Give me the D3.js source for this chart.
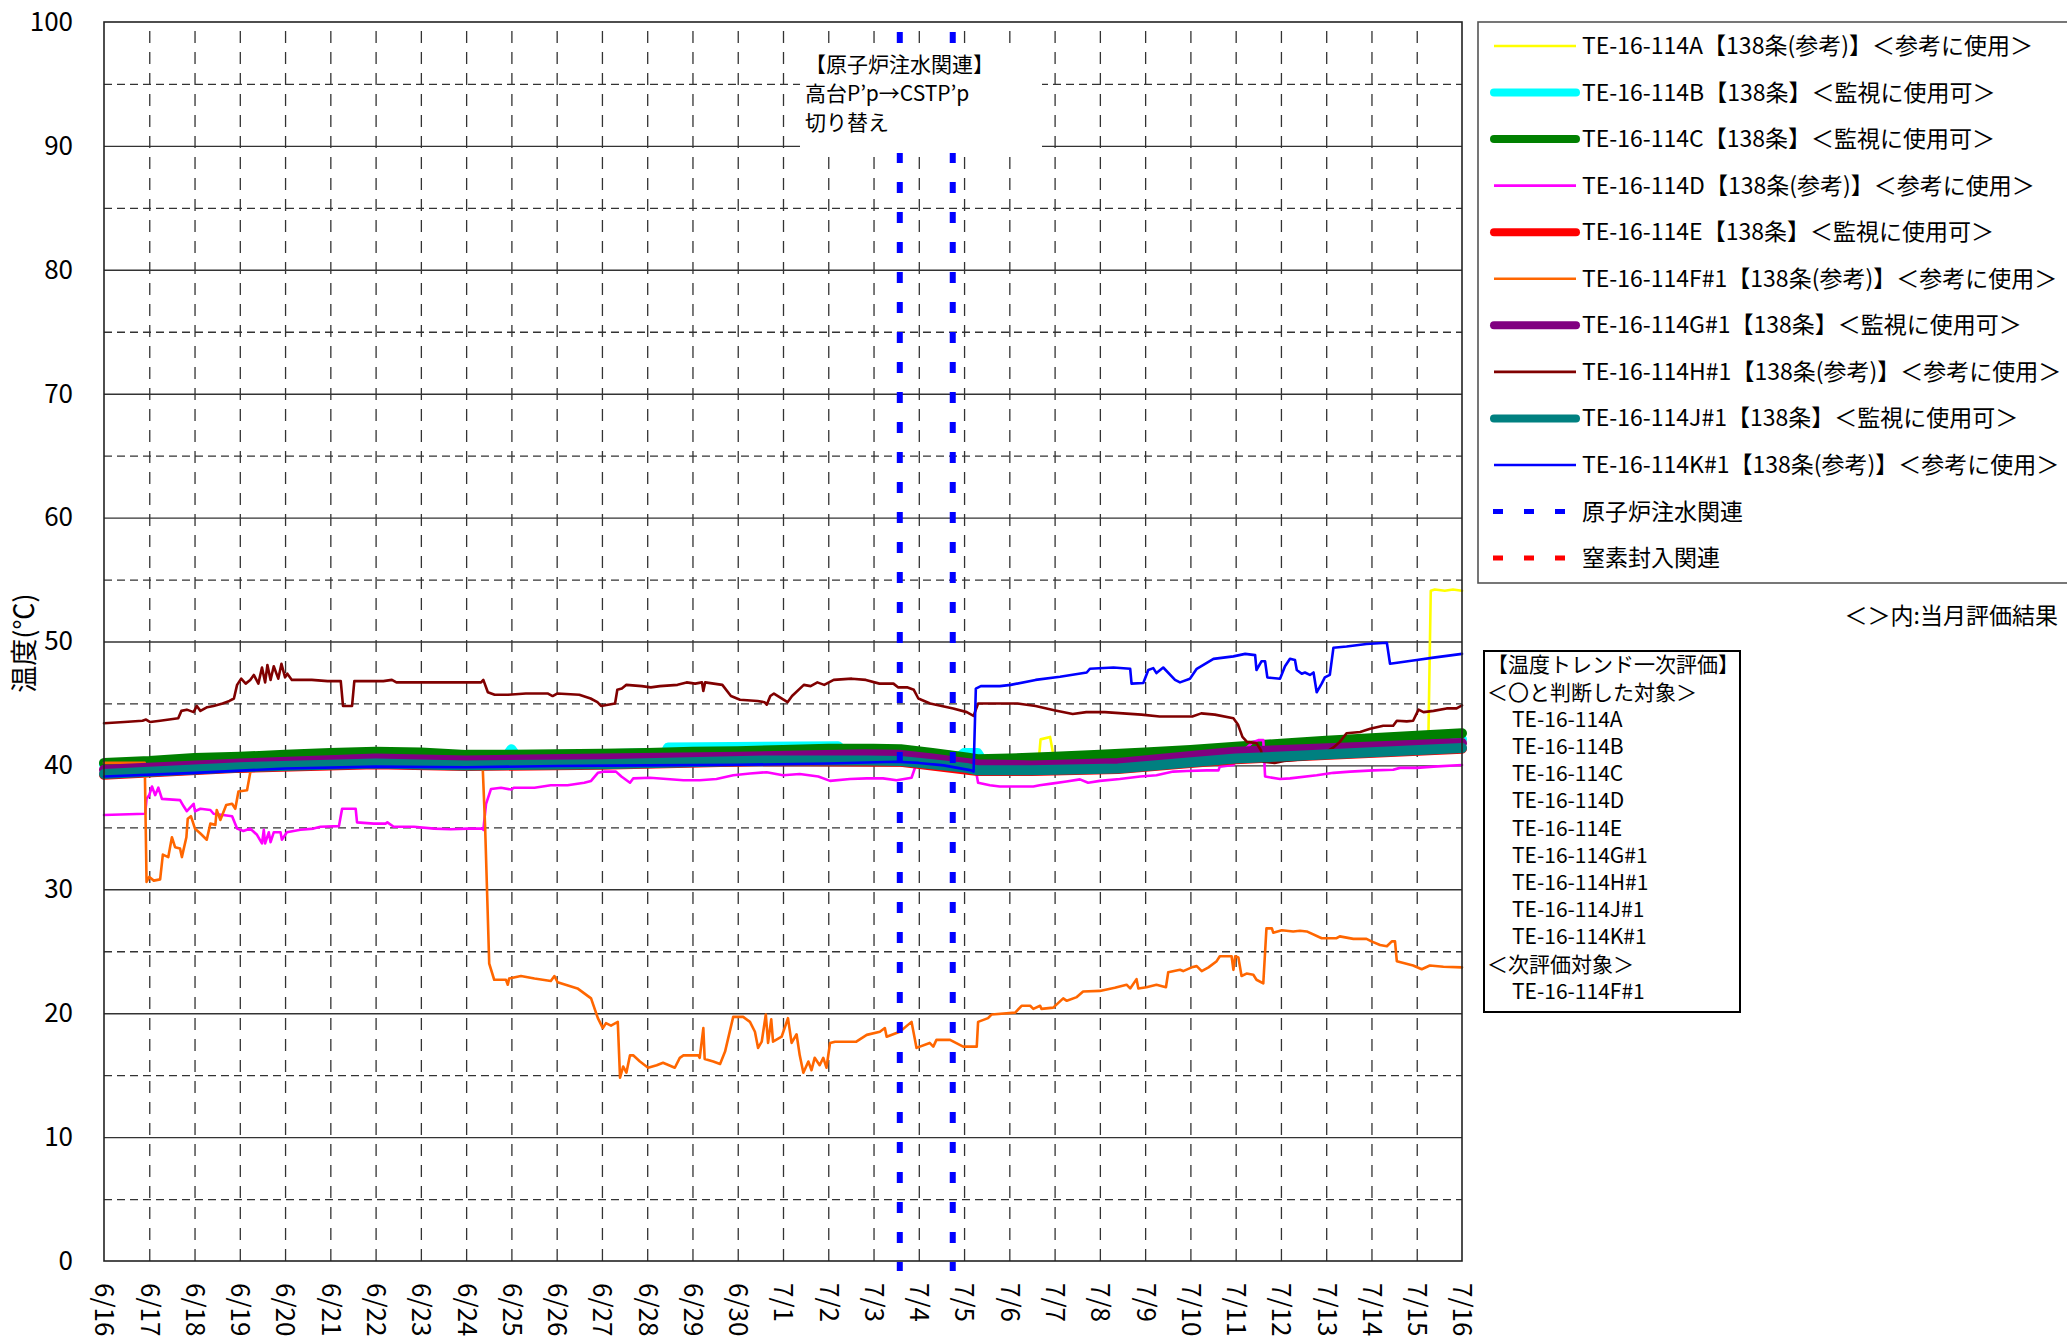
<!DOCTYPE html>
<html>
<head>
<meta charset="utf-8">
<script src="https://cdn.jsdelivr.net/npm/d3@7"></script>
<style>
  body { margin: 0; background: #fff; }
  text { font-family: "Noto Sans CJK JP", "Noto Sans", sans-serif; fill: #000; }
</style>
</head>
<body>
<script>
// temperature trend chart 6/16 - 7/16
var svgWidth = 2067;
var svgHeight = 1343;

var margin = {
  top: 22,
  right: 605,
  bottom: 82,
  left: 104
};

var chartWidth = svgWidth - margin.left - margin.right;
var chartHeight = svgHeight - margin.top - margin.bottom;

// x tick labels (one per day, index = days since 6/16)
var dayLabels = ["6/16","6/17","6/18","6/19","6/20","6/21","6/22","6/23","6/24","6/25",
  "6/26","6/27","6/28","6/29","6/30","7/1","7/2","7/3","7/4","7/5","7/6","7/7","7/8",
  "7/9","7/10","7/11","7/12","7/13","7/14","7/15","7/16"];
var yTicks = [0,10,20,30,40,50,60,70,80,90,100];

// series: [day, temperature]
var te114A = [[0,40.0],[5,40.8],[17,40.8],[18.5,40.5],[19.5,40.1],[20.65,40.4],[20.69,42.1],[20.9,42.3],
  [20.96,41.1],[21,40.6],[25,41.3],[29.2,42.5],[29.26,42.8],[29.31,54.1],[29.4,54.2],[29.62,54.1],[29.8,54.2],[30,54.1]];
var te114B = [[0,40.1],[3,40.6],[6,41.0],[8,40.8],[8.9,40.8],[9.0,41.3],[9.1,40.8],[11,40.9],[12.4,41.0],
  [12.46,41.45],[16.22,41.55],[16.3,41.2],[17.6,41.2],[18.3,40.9],[18.9,40.7],[19.0,41.0],[19.3,41.0],
  [19.4,40.4],[20.5,40.45],[25,41.35],[28,41.9],[30,42.1]];
var te114C = [[0,40.2],[1,40.35],[2,40.6],[3,40.7],[4,40.85],[5,41.0],[6,41.1],[7,41.05],[8,40.85],[9,40.85],
  [10,40.9],[11,40.95],[12,41.0],[13,41.1],[14,41.15],[15,41.25],[16,41.35],[17,41.35],[17.6,41.3],[18.3,41.0],
  [19.05,40.65],[19.3,40.5],[20,40.55],[21,40.7],[22,40.85],[23,41.05],[24,41.25],[25,41.5],[26,41.75],
  [27,42.0],[28,42.2],[29,42.4],[30,42.6]];
var te114D = [[0,36.0],[0.91,36.1],[0.94,37.3],[1.0,37.6],[1.06,38.3],[1.13,37.6],[1.20,38.2],[1.28,37.3],
  [1.68,37.2],[1.76,36.7],[1.83,36.3],[1.98,36.9],[2.01,36.3],[2.13,36.5],[2.35,36.4],[2.42,36.1],[2.83,35.9],
  [2.94,34.9],[3.08,34.7],[3.23,34.9],[3.38,34.4],[3.49,33.7],[3.53,34.8],[3.56,33.7],[3.64,34.6],[3.68,33.8],
  [3.75,34.6],[3.90,34.6],[3.93,34.0],[4.04,34.6],[4.34,34.8],[4.63,34.9],[4.78,35.05],[5.19,35.1],[5.26,36.5],
  [5.56,36.5],[5.59,35.4],[5.96,35.3],[6.22,35.3],[6.26,35.4],[6.40,35.05],[6.85,35.05],[7.29,34.9],
  [7.66,34.85],[8.03,34.9],[8.36,34.9],[8.38,34.8],[8.44,36.9],[8.55,38.1],[8.77,38.2],[8.99,38.05],
  [9.06,38.2],[9.51,38.2],[9.87,38.4],[10.24,38.4],[10.61,38.6],[10.76,38.75],[10.91,39.4],[11.06,39.5],
  [11.31,39.5],[11.43,39.1],[11.62,38.6],[11.69,38.95],[12.06,39.0],[12.43,38.9],[12.80,38.8],[13.16,38.8],
  [13.53,38.9],[13.90,39.2],[14.27,39.35],[14.64,39.45],[15.0,39.2],[15.37,39.3],[15.78,39.1],[16.04,38.75],
  [16.48,38.9],[16.85,38.95],[17.21,38.95],[17.51,38.8],[17.84,39.0],[17.91,39.75],[17.96,40.3],[18.7,40.1],
  [19.25,39.8],[19.31,38.6],[19.57,38.4],[19.79,38.3],[20.16,38.3],[20.53,38.3],[20.67,38.4],[20.97,38.55],
  [21.26,38.7],[21.56,38.87],[21.74,38.6],[22.0,38.75],[22.44,38.9],[22.89,39.1],[23.25,39.2],[23.62,39.5],
  [23.92,39.55],[24.36,39.6],[24.62,39.6],[24.65,39.9],[24.95,40.03],[25.17,41.2],[25.39,41.9],[25.50,42.04],
  [25.61,42.04],[25.65,39.1],[25.98,38.9],[26.2,38.95],[26.79,39.2],[27.16,39.4],[27.53,39.5],[28.04,39.6],
  [28.48,39.65],[28.63,39.8],[29.0,39.8],[29.37,39.9],[30.0,40.03]];
var te114E = [[0,39.25],[3,39.8],[6,40.1],[8,39.95],[11,40.05],[14.6,40.35],[17.6,40.3],[19.3,39.55],
  [20.5,39.55],[22.4,39.7],[25,40.5],[30,41.35]];
var te114F = [[0,40.2],[0.9,40.2],[0.94,30.6],[1.0,31.0],[1.1,30.7],[1.24,30.8],[1.30,32.8],[1.42,32.6],
  [1.50,34.2],[1.57,33.4],[1.68,33.3],[1.72,32.6],[1.82,34.2],[1.85,35.7],[1.92,35.9],[2.01,34.9],[2.13,34.5],
  [2.27,34.0],[2.35,35.3],[2.46,35.2],[2.49,36.4],[2.57,35.6],[2.70,36.8],[2.83,36.9],[2.90,36.5],[2.97,37.9],
  [3.16,38.0],[3.23,39.4],[3.30,40.3],[5,40.5],[8.36,40.4],[8.42,35],[8.47,28.9],[8.51,24.0],[8.62,22.7],
  [8.88,22.7],[8.92,22.3],[8.95,22.8],[9.21,23.0],[9.51,22.8],[9.87,22.6],[9.95,23.0],[10.02,22.5],
  [10.46,22.0],[10.76,21.2],[10.91,19.6],[11.02,18.8],[11.09,19.2],[11.20,19.0],[11.35,19.3],[11.40,14.8],
  [11.47,15.7],[11.54,15.2],[11.62,16.6],[11.69,16.6],[11.84,16.1],[12.02,15.6],[12.21,15.8],[12.35,16.0],
  [12.61,15.6],[12.72,16.4],[12.80,16.6],[13.13,16.6],[13.16,16.4],[13.24,18.8],[13.27,16.3],[13.46,16.1],
  [13.61,15.9],[13.72,16.9],[13.90,19.7],[14.12,19.7],[14.27,19.3],[14.38,18.5],[14.45,17.2],[14.53,17.7],
  [14.62,19.9],[14.67,17.6],[14.74,19.5],[14.78,17.7],[14.97,18.1],[15.11,19.6],[15.19,17.6],[15.30,18.3],
  [15.37,16.6],[15.45,15.2],[15.56,16.1],[15.63,15.4],[15.70,16.4],[15.81,15.8],[15.89,16.4],[15.96,15.6],
  [16.04,17.6],[16.15,17.7],[16.62,17.7],[16.85,18.25],[17.14,18.5],[17.25,18.8],[17.29,18.1],[17.58,18.5],
  [17.84,19.3],[17.95,17.2],[18.24,17.6],[18.32,17.3],[18.39,17.85],[18.69,17.85],[18.98,17.3],[19.28,17.3],
  [19.31,19.3],[19.53,19.6],[19.61,19.9],[20.13,20.05],[20.27,20.6],[20.46,20.6],[20.53,20.35],[20.68,20.6],
  [20.71,20.35],[20.97,20.45],[21.19,21.2],[21.27,21.0],[21.49,21.3],[21.63,21.75],[22.0,21.8],[22.33,22.05],
  [22.59,22.3],[22.67,22.0],[22.81,22.75],[22.85,22.0],[23.03,22.1],[23.25,22.3],[23.46,22.1],[23.51,23.3],
  [23.77,23.5],[23.84,23.4],[24.03,23.7],[24.14,23.8],[24.25,23.4],[24.40,23.7],[24.58,24.2],[24.65,24.6],
  [24.91,24.6],[24.95,23.5],[24.99,24.6],[25.06,24.5],[25.13,23.0],[25.24,23.2],[25.39,23.1],[25.46,22.7],
  [25.61,22.4],[25.68,26.85],[25.80,26.85],[25.83,26.5],[26.02,26.7],[26.27,26.6],[26.42,26.65],[26.57,26.6],
  [26.90,26.05],[27.23,26.05],[27.30,26.2],[27.60,26.0],[27.89,26.0],[28.0,25.8],[28.19,25.5],[28.34,25.4],
  [28.45,25.8],[28.52,25.8],[28.56,24.2],[28.92,23.85],[29.11,23.55],[29.29,23.85],[29.59,23.75],[30.0,23.7]];
var te114G = [[0,39.65],[3,40.15],[6,40.55],[8,40.4],[11,40.55],[14,40.7],[16.8,40.9],[17.6,40.85],
  [18.3,40.55],[19.05,40.2],[19.3,40.1],[20.5,40.0],[22.4,40.2],[25,41.1],[30,41.8]];
var te114H = [[0,43.4],[0.45,43.5],[0.85,43.6],[0.93,43.7],[1.02,43.5],[1.24,43.6],[1.64,43.8],[1.71,44.4],
  [1.83,44.5],[1.98,44.3],[2.05,44.8],[2.13,44.4],[2.28,44.7],[2.42,44.8],[2.62,45.0],[2.77,45.2],[2.87,45.4],
  [2.94,46.5],[3.03,47.0],[3.13,46.6],[3.23,46.9],[3.31,47.3],[3.41,46.6],[3.49,47.9],[3.56,46.7],[3.61,48.1],
  [3.68,46.9],[3.75,48.0],[3.85,47.0],[3.92,48.2],[4.0,47.1],[4.05,47.4],[4.15,46.9],[4.59,46.9],[4.94,46.8],
  [5.23,46.8],[5.28,44.8],[5.48,44.8],[5.53,46.8],[6.17,46.8],[6.36,46.9],[6.46,46.7],[8.33,46.7],[8.38,46.9],
  [8.48,45.9],[8.63,45.7],[8.93,45.7],[9.32,45.8],[9.81,45.8],[9.91,45.6],[10.01,45.8],[10.50,45.7],
  [10.75,45.4],[10.90,45.1],[10.98,44.8],[11.29,45.0],[11.34,46.1],[11.44,46.2],[11.54,46.5],[11.88,46.4],
  [12.08,46.3],[12.28,46.4],[12.67,46.5],[12.87,46.7],[13.06,46.6],[13.21,46.7],[13.24,46.0],[13.28,46.7],
  [13.66,46.5],[13.85,45.6],[14.05,45.3],[14.44,45.2],[14.59,45.1],[14.64,44.9],[14.72,45.6],[14.80,45.8],
  [15.1,45.1],[15.2,45.6],[15.46,46.5],[15.61,46.4],[15.76,46.7],[15.91,46.5],[16.12,46.9],[16.52,47.0],
  [16.83,46.9],[17.13,46.6],[17.44,46.6],[17.54,46.3],[17.74,46.3],[17.89,46.1],[17.99,45.4],[18.25,45.0],
  [18.76,44.6],[19.06,44.3],[19.21,44.0],[19.31,45.0],[20.18,45.0],[20.58,44.8],[20.99,44.45],[21.40,44.15],
  [21.70,44.3],[22.11,44.3],[22.51,44.2],[22.92,44.1],[23.32,43.95],[24.04,43.95],[24.24,44.2],[24.54,44.1],
  [24.95,43.8],[25.05,43.3],[25.15,42.3],[25.25,41.9],[25.46,41.8],[25.56,41.2],[25.61,40.3],[25.86,40.2],
  [26.07,40.35],[26.37,40.45],[26.8,40.6],[27.16,41.45],[27.30,41.9],[27.45,42.6],[27.75,42.7],[27.97,42.95],
  [28.26,43.2],[28.48,43.2],[28.56,43.6],[28.78,43.55],[28.92,43.6],[29.04,44.5],[29.15,44.3],[29.37,44.4],
  [29.66,44.6],[29.88,44.6],[30.0,44.85]];
var te114J = [[0,39.3],[3,39.85],[6,40.15],[8,40.0],[11,40.1],[14.6,40.4],[16.85,40.4],[17.6,40.35],
  [18.3,40.1],[19.05,39.8],[19.3,39.6],[20.5,39.6],[22.4,39.75],[25,40.55],[30,41.4]];
var te114K = [[0,39.1],[2,39.4],[4,39.75],[6,39.9],[8,39.85],[10,39.95],[12,40.0],[14,40.05],[16,40.15],
  [17.5,40.3],[18.0,40.2],[18.55,40.0],[19.16,39.6],[19.21,39.5],[19.26,46.2],[19.37,46.4],[19.79,46.4],
  [20.03,46.5],[20.58,46.9],[21.12,47.15],[21.71,47.5],[21.78,47.8],[22.30,47.9],[22.67,47.8],[22.70,46.6],
  [22.96,46.65],[23.07,47.7],[23.18,47.85],[23.25,47.45],[23.4,47.9],[23.66,46.9],[23.77,46.7],[23.99,47.0],
  [24.14,47.8],[24.51,48.6],[24.95,48.8],[25.21,49.0],[25.43,48.9],[25.46,47.7],[25.57,48.4],[25.65,48.4],
  [25.70,47.1],[25.98,47.0],[26.09,48.0],[26.2,48.6],[26.31,48.5],[26.35,47.7],[26.46,47.4],[26.53,47.5],
  [26.64,47.3],[26.72,47.5],[26.79,45.9],[26.90,46.6],[26.97,47.1],[27.08,47.3],[27.16,49.5],[27.45,49.6],
  [27.89,49.8],[28.34,49.9],[28.41,48.2],[29.0,48.5],[29.37,48.7],[30.0,49.0]];

// times of the reactor water injection switch (days since 6/16)
var injectionTimes = [17.58, 18.75];

var seriesData = [te114A, te114B, te114C, te114D, te114E, te114F, te114G, te114H, te114J, te114K];
var seriesNames = [
  "TE-16-114A【138条(参考)】＜参考に使用＞",
  "TE-16-114B【138条】＜監視に使用可＞",
  "TE-16-114C【138条】＜監視に使用可＞",
  "TE-16-114D【138条(参考)】＜参考に使用＞",
  "TE-16-114E【138条】＜監視に使用可＞",
  "TE-16-114F#1【138条(参考)】＜参考に使用＞",
  "TE-16-114G#1【138条】＜監視に使用可＞",
  "TE-16-114H#1【138条(参考)】＜参考に使用＞",
  "TE-16-114J#1【138条】＜監視に使用可＞",
  "TE-16-114K#1【138条(参考)】＜参考に使用＞"
];
var seriesColors = ["#ffff00","#00ffff","#008000","#ff00ff","#ff0000","#ff6600","#800080","#800000","#008080","#0000ff"];
var seriesThick = [false, true, true, false, true, false, true, false, true, false];

var eventNames = ["原子炉注水関連", "窒素封入関連"];
var eventColors = ["#0000ff", "#ff0000"];

var noteLines = ["【原子炉注水関連】", "高台P’p→CSTP’p", "切り替え"];
var evalLines = [
  {text: "【温度トレンド一次評価】", indent: false},
  {text: "＜〇と判断した対象＞", indent: false},
  {text: "TE-16-114A", indent: true},
  {text: "TE-16-114B", indent: true},
  {text: "TE-16-114C", indent: true},
  {text: "TE-16-114D", indent: true},
  {text: "TE-16-114E", indent: true},
  {text: "TE-16-114G#1", indent: true},
  {text: "TE-16-114H#1", indent: true},
  {text: "TE-16-114J#1", indent: true},
  {text: "TE-16-114K#1", indent: true},
  {text: "＜次評価対象＞", indent: false},
  {text: "TE-16-114F#1", indent: true}
];

var svg = d3.select("body")
  .append("svg")
  .attr("width", svgWidth)
  .attr("height", svgHeight);

svg.append("rect")
  .attr("width", svgWidth)
  .attr("height", svgHeight)
  .attr("fill", "#fff");

var chartGroup = svg.append("g")
  .attr("transform", `translate(${margin.left}, ${margin.top})`);

var xScale = d3.scaleLinear()
  .domain([0, 30])
  .range([0, chartWidth]);

var yScale = d3.scaleLinear()
  .domain([0, 100])
  .range([chartHeight, 0]);

// vertical day grid (dashed)
chartGroup.append("g")
  .attr("transform", `translate(0, ${chartHeight})`)
  .call(d3.axisBottom(xScale).tickValues(d3.range(1, 30)).tickSize(-chartHeight).tickFormat(""))
  .call(g => g.select(".domain").remove())
  .selectAll("line")
    .attr("stroke", "#333")
    .attr("stroke-width", 1.3)
    .attr("stroke-dasharray", "12,9");

// horizontal grid: dashed at 5s, solid at 10s
chartGroup.append("g")
  .call(d3.axisLeft(yScale).tickValues(d3.range(5, 100, 10)).tickSize(-chartWidth).tickFormat(""))
  .call(g => g.select(".domain").remove())
  .selectAll("line")
    .attr("stroke", "#333")
    .attr("stroke-width", 1.3)
    .attr("stroke-dasharray", "8,5");

chartGroup.append("g")
  .call(d3.axisLeft(yScale).tickValues(d3.range(10, 100, 10)).tickSize(-chartWidth).tickFormat(""))
  .call(g => g.select(".domain").remove())
  .selectAll("line")
    .attr("stroke", "#333")
    .attr("stroke-width", 1.4);

// series lines
var line = d3.line()
  .x(d => xScale(d[0]))
  .y(d => yScale(d[1]));

seriesData.forEach(function(data, i) {
  chartGroup.append("path")
    .datum(data)
    .attr("d", line)
    .attr("fill", "none")
    .attr("stroke", seriesColors[i])
    .attr("stroke-width", seriesThick[i] ? 10 : 2.6)
    .attr("stroke-linejoin", "round")
    .attr("stroke-linecap", "round");
});

// plot frame
chartGroup.append("rect")
  .attr("width", chartWidth)
  .attr("height", chartHeight)
  .attr("fill", "none")
  .attr("stroke", "#222")
  .attr("stroke-width", 1.6);

// water injection event markers
chartGroup.selectAll(".event")
  .data(injectionTimes)
  .enter()
  .append("line")
    .attr("x1", d => xScale(d))
    .attr("x2", d => xScale(d))
    .attr("y1", 10)
    .attr("y2", chartHeight + 10)
    .attr("stroke", eventColors[0])
    .attr("stroke-width", 6)
    .attr("stroke-dasharray", "11,19");

// annotation box
var note = svg.append("g").attr("transform", "translate(800, 45)");
note.append("rect")
  .attr("width", 242)
  .attr("height", 108)
  .attr("fill", "#fff");
note.selectAll("text")
  .data(noteLines)
  .enter()
  .append("text")
    .attr("x", 5)
    .attr("y", (d, i) => 20 + i * 29)
    .attr("dy", "0.35em")
    .attr("font-size", "21px")
    .text(d => d);

// y axis labels
svg.append("g")
  .attr("transform", `translate(${margin.left}, ${margin.top})`)
  .call(d3.axisLeft(yScale).tickValues(yTicks).tickSize(0).tickPadding(31))
  .call(g => g.select(".domain").remove())
  .selectAll("text")
    .attr("font-size", "26px")
    .attr("font-family", "'Noto Sans CJK JP', sans-serif")
    .attr("fill", "#000");

// x axis labels, rotated
svg.append("g")
  .attr("transform", `translate(${margin.left}, ${margin.top + chartHeight})`)
  .call(d3.axisBottom(xScale).tickValues(d3.range(0, 31)).tickFormat(i => dayLabels[i]).tickSize(0))
  .call(g => g.select(".domain").remove())
  .selectAll("text")
    .attr("font-size", "26px")
    .attr("font-family", "'Noto Sans CJK JP', sans-serif")
    .attr("fill", "#000")
    .attr("transform", "rotate(90)")
    .attr("x", 22)
    .attr("y", 0)
    .attr("dy", "0.35em")
    .style("text-anchor", "start");

// y axis title
svg.append("text")
  .attr("transform", "translate(25, 643) rotate(-90)")
  .attr("dy", "0.35em")
  .style("text-anchor", "middle")
  .attr("font-size", "27px")
  .text("温度(℃)");

// legend
var legend = svg.append("g").attr("transform", "translate(1478, 22)");
legend.append("rect")
  .attr("width", 620)
  .attr("height", 561)
  .attr("fill", "#fff")
  .attr("stroke", "#555")
  .attr("stroke-width", 1.6);

var legendItems = seriesNames.map((name, i) => ({name: name, color: seriesColors[i], thick: seriesThick[i], dashed: false}))
  .concat(eventNames.map((name, i) => ({name: name, color: eventColors[i], thick: false, dashed: true})));

var legendRow = legend.selectAll(".legendRow")
  .data(legendItems)
  .enter()
  .append("g")
    .attr("transform", (d, i) => `translate(0, ${24 + i * 46.55})`);

legendRow.append("line")
  .attr("x1", d => d.dashed ? 15 : 16)
  .attr("x2", d => d.dashed ? 88 : 98)
  .attr("stroke", d => d.color)
  .attr("stroke-width", d => d.dashed ? 5 : (d.thick ? 8 : 2.6))
  .attr("stroke-linecap", d => d.thick ? "round" : "butt")
  .attr("stroke-dasharray", d => d.dashed ? "10,21" : null);

legendRow.append("text")
  .attr("x", 104)
  .attr("dy", "0.35em")
  .attr("font-size", "23px")
  .text(d => d.name);

svg.append("text")
  .attr("x", 2058)
  .attr("y", 616)
  .attr("dy", "0.35em")
  .style("text-anchor", "end")
  .attr("font-size", "23px")
  .text("＜＞内:当月評価結果");

// evaluation box
var evalBox = svg.append("g").attr("transform", "translate(1484, 651)");
evalBox.append("rect")
  .attr("width", 256)
  .attr("height", 361)
  .attr("fill", "#fff")
  .attr("stroke", "#000")
  .attr("stroke-width", 2);
evalBox.selectAll("text")
  .data(evalLines)
  .enter()
  .append("text")
    .attr("x", d => d.indent ? 28 : 3)
    .attr("y", (d, i) => 14 + i * 27.2)
    .attr("dy", "0.35em")
    .attr("font-size", "21px")
    .text(d => d.text);
</script>
</body>
</html>
